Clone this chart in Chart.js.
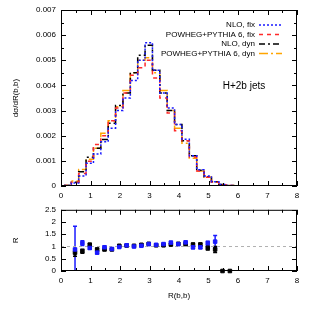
<!DOCTYPE html>
<html>
<head>
<meta charset="utf-8">
<script src="https://cdn.jsdelivr.net/npm/chart.js@4.4.1/dist/chart.umd.min.js"></script>
<style>
  html, body { margin: 0; padding: 0; background: #fff; }
  #wrap { position: relative; width: 314px; height: 314px; }
  #top { position: absolute; left: 0; top: 0; }
  #bottom { position: absolute; left: 0; top: 200px; }
</style>
</head>
<body>
<div id="wrap">
  <canvas id="top" width="314" height="205"></canvas>
  <canvas id="bottom" width="314" height="114"></canvas>
</div>
<script>
// histogram bins (left edges, last one closes the final bin)
const binEdges = [0.1, 0.35, 0.6, 0.85, 1.1, 1.35, 1.6, 1.85, 2.1, 2.35, 2.6, 2.85,
  3.1, 3.35, 3.6, 3.85, 4.1, 4.35, 4.6, 4.85, 5.1, 5.35, 5.6, 5.85, 8.0];

const nloFix = [0.00002, 0.00012, 0.0004, 0.0009, 0.00127, 0.00176, 0.0023, 0.003, 0.0035, 0.0042, 0.005, 0.0057,
  0.0046, 0.0037, 0.0031, 0.00245, 0.00186, 0.0012, 0.00065, 0.0004, 0.00017, 0.00006, 0.00002, 0.00001];
const powhegFix = [0.00002, 0.00015, 0.0005, 0.00098, 0.00165, 0.002, 0.0026, 0.0031, 0.0037, 0.0044, 0.0047, 0.005,
  0.0043, 0.0035, 0.0029, 0.0022, 0.0018, 0.00115, 0.0006, 0.00035, 0.00015, 0.00005, 0.00002, 0.00001];
const nloDyn = [0.00002, 0.00015, 0.00057, 0.00114, 0.0015, 0.00185, 0.0025, 0.0032, 0.0037, 0.0045, 0.0052, 0.0056,
  0.0046, 0.0037, 0.003, 0.00245, 0.0018, 0.0012, 0.00063, 0.00037, 0.00017, 0.00006, 0.00002, 0.00001];
const powhegDyn = [0.00002, 0.0002, 0.00066, 0.00106, 0.0015, 0.0021, 0.0026, 0.00315, 0.0038, 0.0045, 0.005, 0.0051,
  0.0045, 0.0038, 0.003, 0.0023, 0.0017, 0.0011, 0.0006, 0.00036, 0.00016, 0.00005, 0.00002, 0.00001];

const seriesLabels = ["NLO, fix", "POWHEG+PYTHIA 6, fix", "NLO, dyn", "POWHEG+PYTHIA 6, dyn"];

// ratio panel
const ratioX = [0.475, 0.725, 0.975, 1.225, 1.475, 1.725, 1.975, 2.225, 2.475, 2.725, 2.975,
  3.225, 3.475, 3.725, 3.975, 4.225, 4.475, 4.725, 4.975, 5.225, 5.475, 5.725];
const ratioBlue = [0.88, 1.14, 0.94, 0.75, 0.97, 0.9, 0.98, 1.05, 1.0, 1.03, 1.1,
  1.07, 1.1, 1.16, 1.1, 1.17, 0.97, 0.97, 1.14, 1.2];
const errBlue = [0.95, 0.1, 0.05, 0.05, 0.04, 0.03, 0.03, 0.03, 0.03, 0.03, 0.03,
  0.03, 0.04, 0.04, 0.04, 0.05, 0.06, 0.06, 0.08, 0.25];
const ratioBlack = [0.75, 0.81, 1.07, 0.88, 0.88, 0.88, 1.03, 1.04, 1.03, 1.07, 1.11,
  1.05, 1.05, 1.08, 1.11, 1.1, 1.08, 1.08, 0.94, 0.88, 0, 0];
const errBlack = [0.15, 0.08, 0.06, 0.05, 0.04, 0.03, 0.03, 0.03, 0.03, 0.03, 0.03,
  0.03, 0.03, 0.03, 0.04, 0.04, 0.05, 0.06, 0.08, 0.12, 0, 0];

const FONT = "'Liberation Sans', Arial, sans-serif";

function stepData(vals) {
  const pts = vals.map((v, i) => ({ x: binEdges[i], y: v }));
  pts.push({ x: binEdges[vals.length], y: vals[vals.length - 1] });
  return pts;
}

// frame + inward ticks on all four sides (gnuplot look)
const framePlugin = {
  id: "frame",
  afterDatasetsDraw(chart, args, o) {
    const { ctx, chartArea: a, scales: { x, y } } = chart;
    ctx.save();
    ctx.strokeStyle = "#000";
    ctx.lineWidth = 1;
    ctx.setLineDash([]);
    ctx.strokeRect(a.left + 0.5, a.top + 0.5, a.right - a.left - 1, a.bottom - a.top - 1);
    ctx.beginPath();
    for (let v = x.min; v <= x.max + 1e-9; v += o.xStep) {
      const major = Math.abs(v / o.xMajor - Math.round(v / o.xMajor)) < 1e-6;
      const len = major ? 5 : 3;
      const px = Math.round(x.getPixelForValue(v)) + 0.5;
      ctx.moveTo(px, a.bottom); ctx.lineTo(px, a.bottom - len);
      ctx.moveTo(px, a.top); ctx.lineTo(px, a.top + len);
    }
    for (let v = y.min; v <= y.max + 1e-12; v += o.yStep) {
      const major = Math.abs(v / o.yMajor - Math.round(v / o.yMajor)) < 1e-6;
      const len = major ? 5 : 3;
      const py = Math.round(y.getPixelForValue(v)) + 0.5;
      ctx.moveTo(a.left, py); ctx.lineTo(a.left + len, py);
      ctx.moveTo(a.right, py); ctx.lineTo(a.right - len, py);
    }
    ctx.stroke();
    ctx.restore();
  }
};

// legend in the upper right: text right aligned, line sample on the right
const sideLegend = {
  id: "sideLegend",
  afterDraw(chart) {
    const { ctx, chartArea: a } = chart;
    ctx.save();
    ctx.font = "8px " + FONT;
    ctx.textAlign = "right";
    ctx.textBaseline = "middle";
    chart.data.datasets.forEach((ds, i) => {
      const yy = a.top + 15 + i * 9.5;
      ctx.fillStyle = "#000";
      ctx.fillText(ds.label, a.right - 42, yy);
      ctx.strokeStyle = ds.borderColor;
      ctx.lineWidth = 1.5;
      ctx.setLineDash(ds.borderDash);
      ctx.beginPath();
      ctx.moveTo(a.right - 38, yy);
      ctx.lineTo(a.right - 15, yy);
      ctx.stroke();
    });
    ctx.setLineDash([]);
    ctx.font = "10px " + FONT;
    ctx.textAlign = "center";
    ctx.fillStyle = "#000";
    ctx.fillText("H+2b jets", a.right - 53, a.top + 76);
    ctx.restore();
  }
};

// vertical error bars for the ratio points
const errorBars = {
  id: "errorBars",
  beforeDatasetsDraw(chart) {
    const { ctx, chartArea: a, scales: { y } } = chart;
    ctx.save();
    ctx.beginPath();
    ctx.rect(a.left, a.top, a.right - a.left, a.bottom - a.top);
    ctx.clip();
    chart.data.datasets.forEach((ds, i) => {
      if (!ds.errors) return;
      const meta = chart.getDatasetMeta(i);
      ctx.strokeStyle = ds.backgroundColor;
      ctx.lineWidth = 1.5;
      meta.data.forEach((pt, j) => {
        const e = ds.errors[j];
        if (!e) return;
        const v = ds.data[j].y;
        const y1 = y.getPixelForValue(v - e);
        const y2 = y.getPixelForValue(v + e);
        ctx.beginPath();
        ctx.moveTo(pt.x, y1); ctx.lineTo(pt.x, y2);
        ctx.moveTo(pt.x - 2, y1); ctx.lineTo(pt.x + 2, y1);
        ctx.moveTo(pt.x - 2, y2); ctx.lineTo(pt.x + 2, y2);
        ctx.stroke();
      });
    });
    ctx.restore();
  }
};

const tickFont = { family: FONT, size: 8 };

new Chart(document.getElementById("top"), {
  type: "line",
  data: {
    datasets: [
      { label: seriesLabels[0], data: stepData(nloFix), borderColor: "#1a1aff", borderDash: [2, 2] },
      { label: seriesLabels[1], data: stepData(powhegFix), borderColor: "#ff2a2a", borderDash: [4, 4] },
      { label: seriesLabels[2], data: stepData(nloDyn), borderColor: "#000000", borderDash: [6, 3, 2, 3] },
      { label: seriesLabels[3], data: stepData(powhegDyn), borderColor: "#ffa500", borderDash: [9, 3, 2, 3] }
    ].map(d => Object.assign(d, { stepped: "before", borderWidth: 1.5, pointRadius: 0, fill: false }))
  },
  options: {
    responsive: false,
    animation: false,
    layout: { padding: { top: 10, right: 17, left: 0, bottom: 0 } },
    plugins: {
      legend: { display: false },
      tooltip: { enabled: false },
      frame: { xStep: 0.5, xMajor: 1, yStep: 0.0005, yMajor: 0.001 }
    },
    scales: {
      x: {
        type: "linear", min: 0, max: 8,
        grid: { display: false, drawTicks: false },
        border: { display: false },
        ticks: { stepSize: 1, color: "#000", font: tickFont, padding: 5, maxRotation: 0, autoSkip: false },
        afterFit: s => { s.height = 19; }
      },
      y: {
        min: 0, max: 0.007,
        grid: { display: false, drawTicks: false },
        border: { display: false },
        ticks: { stepSize: 0.001, color: "#000", font: tickFont, padding: 5, autoSkip: false,
          callback: v => v === 0 ? "0" : v.toFixed(3) },
        title: { display: true, text: "dσ/dR(b,b)", color: "#000", font: tickFont, padding: { top: 11, bottom: 0 } },
        afterFit: s => { s.width = 61; }
      }
    }
  },
  plugins: [framePlugin, sideLegend]
});

new Chart(document.getElementById("bottom"), {
  type: "scatter",
  data: {
    datasets: [
      { data: [{ x: 0, y: 1 }, { x: 8, y: 1 }], type: "line", borderColor: "#b0b0b0", borderWidth: 1,
        borderDash: [3, 3], pointRadius: 0, order: 10 },
      { data: ratioBlue.map((v, i) => ({ x: ratioX[i], y: v })), errors: errBlue,
        backgroundColor: "#1a1aff", borderColor: "#1a1aff", pointStyle: "rect", pointRadius: 2.5, clip: false },
      { data: ratioBlack.map((v, i) => ({ x: ratioX[i], y: v })), errors: errBlack,
        backgroundColor: "#000000", borderColor: "#000000", pointStyle: "rect", pointRadius: 2.5, clip: false }
    ]
  },
  options: {
    responsive: false,
    animation: false,
    layout: { padding: { top: 7, right: 17, left: 0, bottom: 0 } },
    plugins: {
      legend: { display: false },
      tooltip: { enabled: false },
      frame: { xStep: 0.5, xMajor: 1, yStep: 0.5, yMajor: 0.5 }
    },
    scales: {
      x: {
        type: "linear", min: 0, max: 8,
        grid: { display: false, drawTicks: false },
        border: { display: false },
        ticks: { stepSize: 1, color: "#000", font: tickFont, padding: 5, maxRotation: 0, autoSkip: false },
        title: { display: true, text: "R(b,b)", color: "#000", font: tickFont, padding: { top: 0, bottom: 13 } },
        afterFit: s => { s.height = 43; }
      },
      y: {
        min: 0, max: 2.5,
        grid: { display: false, drawTicks: false },
        border: { display: false },
        ticks: { stepSize: 0.5, color: "#000", font: tickFont, padding: 5, autoSkip: false,
          callback: v => String(Math.round(v * 10) / 10) },
        title: { display: true, text: "R", color: "#000", font: tickFont, padding: { top: 11, bottom: 0 } },
        afterFit: s => { s.width = 61; }
      }
    }
  },
  plugins: [framePlugin, errorBars]
});
</script>
</body>
</html>
